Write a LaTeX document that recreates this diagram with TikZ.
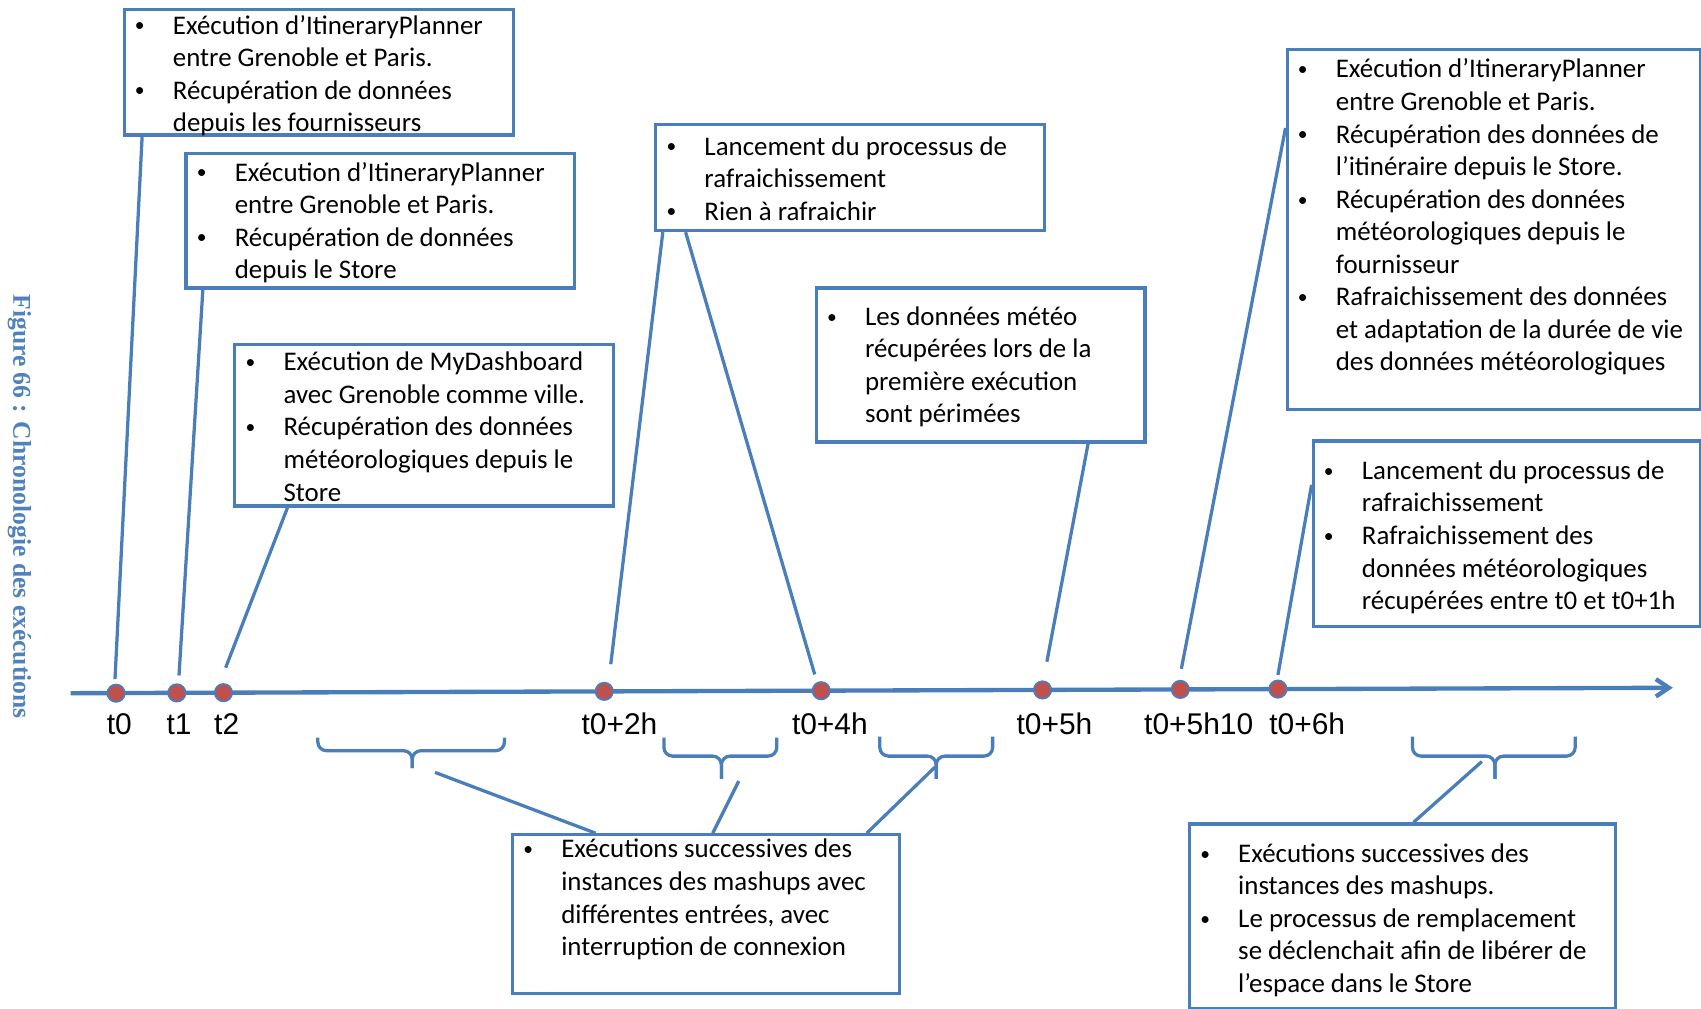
\documentclass[tikz,border=0pt]{standalone}
\usepackage{fontspec}
\setmainfont{Carlito}
\newfontfamily\axisfont{Liberation Sans}
\newfontfamily\capfont{Liberation Serif}
\usepackage{xcolor}
\usepackage{tikz}
\usetikzlibrary{positioning,arrows.meta,calc}
\definecolor{lineblue}{HTML}{4A7EBB}
\definecolor{capblue}{HTML}{4F81BD}
\definecolor{dotred}{HTML}{C0504D}
\newcommand{\bul}{\raisebox{1pt}{\fontsize{9}{9}\selectfont\textbullet}}
\newcommand{\blist}[1]{\begin{tabular}{@{}p{17.5pt}@{}l@{}}#1\end{tabular}}

\begin{document}
\begin{tikzpicture}[
  x=0.5pt, y=-0.5pt,
  box/.style={rectangle, draw=lineblue, line width=1.5pt, anchor=north west, inner sep=0pt},
  txt/.style={anchor=north west, inner sep=0pt, font=\fontsize{12.4}{15}\selectfont},
  link/.style={draw=lineblue, line width=1.5pt},
  axis/.style={draw=lineblue, line width=2pt, -{Straight Barb[length=6pt,width=8pt]}},
  dot/.style={circle, fill=dotred, draw=lineblue, line width=0.8pt, minimum size=8pt, inner sep=0pt},
  tlbl/.style={anchor=base, inner sep=0pt, font=\axisfont\fontsize{13.8}{16}\selectfont},
  brace/.style={draw=lineblue, line width=1.5pt, rounded corners=4pt},
  caption/.style={font=\capfont\bfseries\fontsize{11.8}{14}\selectfont, text=capblue, rotate=-90},
]
\useasboundingbox (0,0) rectangle (1568,930);

% Caption on the left
\node[caption] (cap) at (18,467) {Figure 66 : Chronologie des exécutions};

% Time axis
\coordinate (tstart) at (65,639);
\coordinate (tend)   at (1542,634);
\draw[axis] (tstart) -- (tend);

\foreach \n/\x/\y in {0/107/639,1/163/638.7,2/206/638.5,3/557/637.3,4/757/636.7,5/961/636,6/1088/635.5,7/1178/635.2}
  \node[dot] (d\n) at (\x,\y) {};

\foreach \n/\x/\lab in {0/110/t0,1/165/t1,2/209/t2,3/571/t0+2h,4/765/t0+4h,5/972/t0+5h,6/1105/t0+5h10,7/1205/t0+6h}
  \node[tlbl] (l\n) at (\x,677) {\lab};

% Braces under the axis
\foreach \n/\xa/\xm/\xb/\yt/\yh/\yb in {1/293/380/465/680/692/708, 2/612/665/716/680/697/718,
                                        3/811/863/915/679/697/718, 4/1302/1378/1452/679/697/718}{
  \draw[brace] (\xa,\yt) |- (\xm,\yh) -- (\xm,\yb);
  \draw[brace] (\xb,\yt) |- (\xm,\yh) -- (\xm,\yb);
}
\coordinate (br1) at (401,712);
\coordinate (br2) at (681,720);
\coordinate (br3) at (862,707);
\coordinate (br4) at (1366,702);

% Boxes above the axis
\node[box, minimum width=179.5pt, minimum height=58pt] (boxA) at (113,7) {};
\node[txt] (txtA) at (124,10) {\blist{%
  \bul & Exécution d’ItineraryPlanner\\
       & entre Grenoble et Paris.\\
  \bul & Récupération de données\\
       & depuis les fournisseurs}};

\node[box, minimum width=179pt, minimum height=62pt] (boxB) at (170,140) {};
\node[txt] (txtB) at (181,145.5) {\blist{%
  \bul & Exécution d’ItineraryPlanner\\
       & entre Grenoble et Paris.\\
  \bul & Récupération de données\\
       & depuis le Store}};

\node[box, minimum width=174.5pt, minimum height=74.5pt] (boxC) at (215,316) {};
\node[txt] (txtC) at (226,320.5) {\blist{%
  \bul & Exécution de MyDashboard\\
       & avec Grenoble comme ville.\\
  \bul & Récupération des données\\
       & météorologiques depuis le\\
       & Store}};

\node[box, minimum width=179pt, minimum height=49pt] (boxD) at (603,113) {};
\node[txt] (txtD) at (614,121.5) {\blist{%
  \bul & Lancement du processus de\\
       & rafraichissement\\
  \bul & Rien à rafraichir}};

\node[box, minimum width=151.5pt, minimum height=71pt] (boxE) at (751,264) {};
\node[txt] (txtE) at (762,278.5) {\blist{%
  \bul & Les données météo\\
       & récupérées lors de la\\
       & première exécution\\
       & sont périmées}};

\node[box, minimum width=190.5pt, minimum height=166pt] (boxF) at (1185,44) {};
\node[txt] (txtF) at (1196,50.5) {\blist{%
  \bul & Exécution d’ItineraryPlanner\\
       & entre Grenoble et Paris.\\
  \bul & Récupération des données de\\
       & l’itinéraire depuis le Store.\\
  \bul & Récupération des données\\
       & météorologiques depuis le\\
       & fournisseur\\
  \bul & Rafraichissement des données\\
       & et adaptation de la durée de vie\\
       & des données météorologiques}};

\node[box, minimum width=178.5pt, minimum height=85.5pt] (boxG) at (1209,405) {};
\node[txt] (txtG) at (1220,420.5) {\blist{%
  \bul & Lancement du processus de\\
       & rafraichissement\\
  \bul & Rafraichissement des\\
       & données météorologiques\\
       & récupérées entre t0 et t0+1h}};

% Boxes below the axis
\node[box, minimum width=178.5pt, minimum height=73pt] (boxH) at (471,768) {};
\node[txt] (txtH) at (482,769.5) {\blist{%
  \bul & Exécutions successives des\\
       & instances des mashups avec\\
       & différentes entrées, avec\\
       & interruption de connexion}};

\node[box, minimum width=196.5pt, minimum height=85pt] (boxI) at (1095,758) {};
\node[txt] (txtI) at (1106,773.5) {\blist{%
  \bul & Exécutions successives des\\
       & instances des mashups.\\
  \bul & Le processus de remplacement\\
       & se déclenchait afin de libérer de\\
       & l’espace dans le Store}};

% Box to time point
\draw[link] ([xshift=9pt]boxA.south west)   -- ([xshift=-0.5pt,yshift=6.5pt]d0.center);
\draw[link] ([xshift=8.5pt]boxB.south west) -- ([xshift=1pt,yshift=8pt]d1.center);
\draw[link] ([xshift=25pt]boxC.south west)  -- ([xshift=1pt,yshift=11.5pt]d2.center);
\draw[link] ([xshift=4pt]boxD.south west)   -- ([xshift=3pt,yshift=12.5pt]d3.center);
\draw[link] ([xshift=14.5pt]boxD.south west) -- ([xshift=-3pt,yshift=7.5pt]d4.center);
\draw[link] ([xshift=-27pt]boxE.south east) -- ([xshift=2pt,yshift=13pt]d5.center);
\draw[link] ([yshift=-37pt]boxF.north west) -- ([xshift=0.5pt,yshift=9.5pt]d6.center);
\draw[link] ([yshift=-21pt]boxG.north west) -- ([yshift=6.5pt]d7.center);

% Box to brace
\draw[link] ([xshift=39pt]boxH.north west)  -- (br1);
\draw[link] ([xshift=93pt]boxH.north west)  -- (br2);
\draw[link] ([xshift=-16pt]boxH.north east) -- (br3);
\draw[link] ([xshift=104pt]boxI.north west) -- (br4);
\end{tikzpicture}
\end{document}
